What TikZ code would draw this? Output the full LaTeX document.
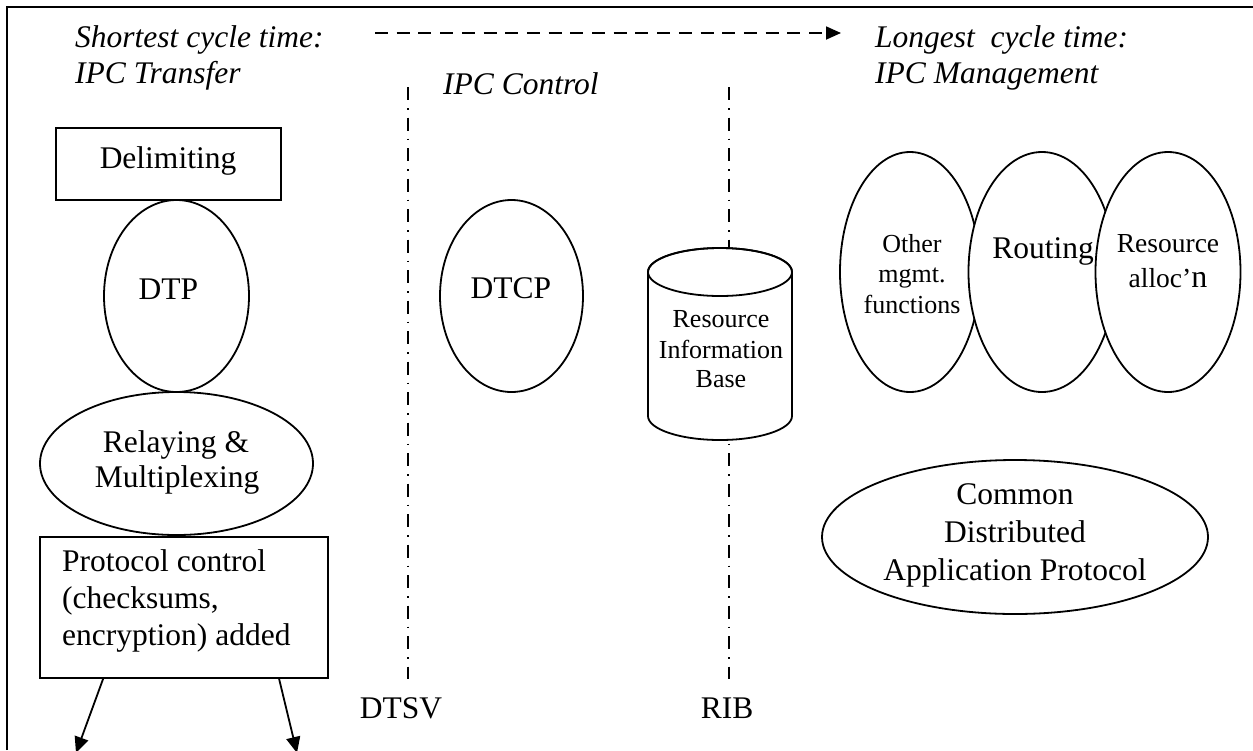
\documentclass[tikz,border=0pt]{standalone}
\usepackage{fontspec}
\setmainfont{Liberation Serif}
\usetikzlibrary{arrows.meta,shapes.geometric}
\begin{document}
\begin{tikzpicture}[x=1pt,y=-1pt,
  outline/.style={draw,line width=1.8pt},
  oval/.style={outline,ellipse,fill=white,inner sep=0pt},
  boxnode/.style={outline,rectangle,fill=white,inner sep=0pt},
  txt/.style={inner sep=0pt,font=\fontsize{31.5}{36}\selectfont},
  itxt/.style={txt,font=\fontsize{31.5}{36}\selectfont\itshape},
  smalltxt/.style={inner sep=0pt,font=\fontsize{26}{30}\selectfont},
  boundary/.style={line width=1.3pt,dash pattern=on 13pt off 8pt on 1.5pt off 8pt},
  timeline/.style={line width=1.8pt,dash pattern=on 13pt off 8.7pt,-{Triangle[length=15pt,width=13pt]}},
  outflow/.style={line width=1.8pt,-{Triangle[length=16pt,width=14pt]}}
]
\useasboundingbox (0,0) rectangle (1253,750);

% frame
\draw[line width=1.8pt] (7,750) -- (7,7) -- (1253,7);

% time scale
\coordinate (tS) at (375,33);
\coordinate (tE) at (841,33);
\draw[timeline] (tS) -- (tE);
\node[itxt,anchor=base west] (shortA) at (75,47) {Shortest cycle time:};
\node[itxt,anchor=base west] (shortB) at (75,83) {IPC Transfer};
\node[itxt,anchor=base west] (longA) at (875,47) {Longest~ cycle time:};
\node[itxt,anchor=base west] (longB) at (875,83) {IPC Management};
\node[itxt,anchor=base west] (ctl) at (443,94) {IPC Control};

% boundaries between the three parts
\coordinate (dtsvT) at (408,87);
\coordinate (dtsvB) at (408,679);
\coordinate (ribT) at (729,87);
\coordinate (ribB) at (729,679);
\draw[boundary] (dtsvT) -- (dtsvB);
\draw[boundary] (ribT) -- (ribB);
\node[txt,anchor=base] (dtsv) at (401,718) {DTSV};
\node[txt,anchor=base] (ribl) at (727,718) {RIB};

% IPC transfer column
\node[boxnode,minimum width=225pt,minimum height=72pt] (delim) at (168.5,164) {};
\node[txt,anchor=base] (delimT) at (168,168) {Delimiting};
\node[oval,minimum width=145pt,minimum height=192pt] (dtp) at (176.5,296) {};
\node[txt,anchor=base] (dtpT) at (168.5,299) {DTP};
\node[oval,minimum width=273pt,minimum height=143pt] (relay) at (176.5,463.5) {};
\node[txt,anchor=base] (relayA) at (176,452) {Relaying \&};
\node[txt,anchor=base] (relayB) at (177,487) {Multiplexing};
\node[boxnode,minimum width=288pt,minimum height=141pt] (pci) at (184,607.5) {};
\node[txt,anchor=base west] (pciA) at (62,571) {Protocol control};
\node[txt,anchor=base west] (pciB) at (62,608) {(checksums,};
\node[txt,anchor=base west] (pciC) at (62,645) {encryption) added};
\coordinate (outL) at (76,753);
\coordinate (outR) at (297,753);
\draw[outflow] (pci.south west) ++(64,0) coordinate (pciL) -- (outL);
\draw[outflow] (pci.south west) ++(240,0) coordinate (pciR) -- (outR);

% IPC control column
\node[oval,minimum width=143pt,minimum height=192pt] (dtcp) at (511.5,296) {};
\node[txt,anchor=base] (dtcpT) at (511,298) {DTCP};

% resource information base (cylinder)
\draw[outline,fill=white] (648,272) -- (648,416)
  arc[start angle=180,end angle=360,x radius=72pt,y radius=24pt]
  -- (792,272)
  arc[start angle=0,end angle=180,x radius=72pt,y radius=24pt] -- cycle;
\draw[outline] (720,272) ellipse [x radius=72pt,y radius=24pt];
\node[smalltxt,anchor=base] (ribA) at (721,327) {Resource};
\node[smalltxt,anchor=base] (ribB2) at (721,358) {Information};
\node[smalltxt,anchor=base] (ribC) at (721,387) {Base};

% IPC management column
\node[oval,minimum width=140pt,minimum height=240pt] (other) at (910,272) {};
\node[oval,minimum width=147pt,minimum height=240pt] (routing) at (1042,272) {};
\node[oval,minimum width=145pt,minimum height=240pt] (alloc) at (1168,272) {};
\node[smalltxt,anchor=base] (otherA) at (912,252) {Other};
\node[smalltxt,anchor=base] (otherB) at (912,282) {mgmt.};
\node[smalltxt,anchor=base] (otherC) at (912,313) {functions};
\node[txt,anchor=base] (routingT) at (1043,258) {Routing};
\node[inner sep=0pt,anchor=base,font=\fontsize{27.5}{32}\selectfont] (allocA) at (1168,252) {Resource};
\node[inner sep=0pt,anchor=base,font=\fontsize{27.5}{32}\selectfont] (allocB) at (1168,287) {alloc’{\fontsize{32}{36}\selectfont n}};

\node[oval,minimum width=386pt,minimum height=154pt] (cdap) at (1015,537) {};
\node[txt,anchor=base] (cdapA) at (1015,504) {Common};
\node[txt,anchor=base] (cdapB) at (1015,542) {Distributed};
\node[txt,anchor=base] (cdapC) at (1015,580) {Application Protocol};
\end{tikzpicture}
\end{document}
